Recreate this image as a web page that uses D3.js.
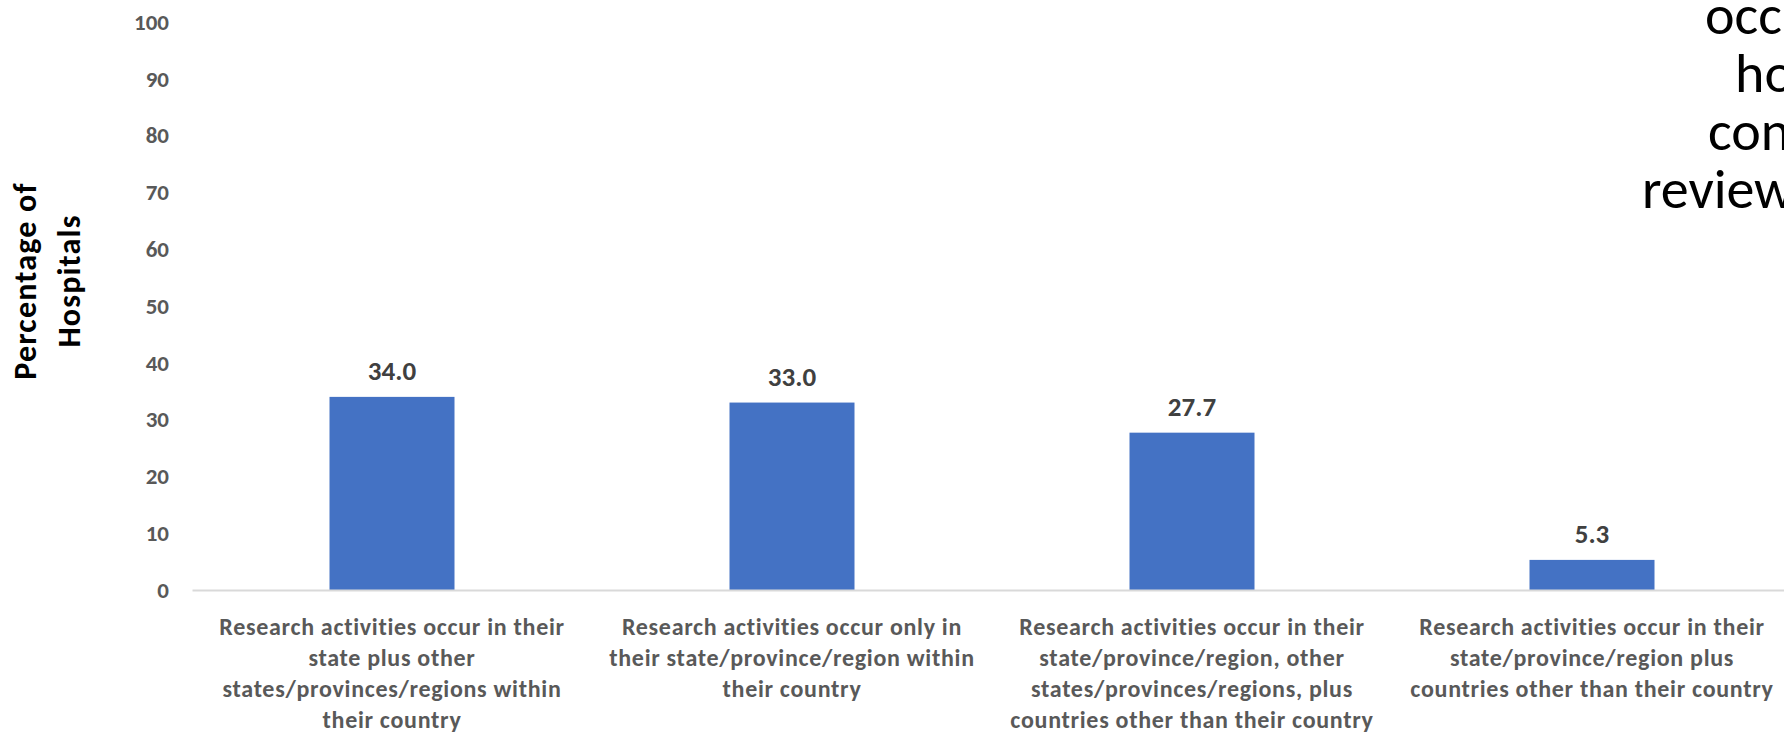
<!DOCTYPE html>
<html>
<head>
<meta charset="utf-8">
<script src="https://cdn.jsdelivr.net/npm/d3@7"></script>
<style>
  html, body { margin: 0; padding: 0; background: #ffffff; }
  svg { display: block; }
</style>
</head>
<body>
<svg id="chart" width="1784" height="733"></svg>
<script>
// ---- data ----
const categories = [
  "Research activities occur in their state plus other states/provinces/regions within their country",
  "Research activities occur only in their state/province/region within their country",
  "Research activities occur in their state/province/region, other states/provinces/regions, plus countries other than their country",
  "Research activities occur in their state/province/region plus countries other than their country"
];
const categoryLines = [
  ["Research activities occur in their", "state plus other", "states/provinces/regions within", "their country"],
  ["Research activities occur only in", "their state/province/region within", "their country"],
  ["Research activities occur in their", "state/province/region, other", "states/provinces/regions, plus", "countries other than their country"],
  ["Research activities occur in their", "state/province/region plus", "countries other than their country"]
];
const values = [34.0, 33.0, 27.7, 5.3];
const yTicks = [0, 10, 20, 30, 40, 50, 60, 70, 80, 90, 100];
const yTitleLines = ["Percentage of", "Hospitals"];
const cornerTextLines = ["occ", "ho", "con", "review"];

// ---- layout ----
const W = 1784, H = 733;
const FONT = "Carlito, Calibri, Lato, 'Liberation Sans', sans-serif";
const svg = d3.select("#chart");
svg.append("rect").attr("width", W).attr("height", H).attr("fill", "#ffffff");

const x = d3.scaleBand().domain(categories).range([192, 1792])
  .paddingInner(0.6875).paddingOuter(0.34375);
const y = d3.scaleLinear().domain([0, 100]).range([590, 22]);

// y axis (labels only)
const yAxis = d3.axisLeft(y).tickValues(yTicks).tickSize(0).tickPadding(23)
  .tickFormat(d3.format("d"));
const gy = svg.append("g").attr("transform", "translate(192,0)").call(yAxis);
gy.select(".domain").remove();
gy.selectAll("text")
  .attr("font-family", FONT).attr("font-size", 23).attr("font-weight", "bold")
  .attr("fill", "#595959");

// bars
svg.append("g").selectAll("rect").data(values).join("rect")
  .attr("x", (d, i) => x(categories[i]))
  .attr("width", x.bandwidth())
  .attr("y", d => y(d))
  .attr("height", d => y(0) - y(d))
  .attr("fill", "#4472C4");

// baseline
const gx = svg.append("g").attr("transform", `translate(0,${y(0)})`)
  .call(d3.axisBottom(x).tickSize(0).tickFormat(""));
gx.select(".domain").attr("stroke", "#d9d9d9").attr("stroke-width", 2);

// value labels
svg.append("g").selectAll("text").data(values).join("text")
  .attr("x", (d, i) => x(categories[i]) + x.bandwidth() / 2)
  .attr("y", d => y(d) - 17)
  .attr("text-anchor", "middle")
  .attr("font-family", FONT).attr("font-size", 27).attr("font-weight", "bold")
  .attr("fill", "#404040")
  .text(d => d.toFixed(1));

// category labels
const cl = svg.append("g").selectAll("text").data(categories).join("text")
  .attr("text-anchor", "middle")
  .attr("font-family", FONT).attr("font-size", 24).attr("font-weight", "bold")
  .attr("letter-spacing", 0.7)
  .attr("fill", "#595959");
cl.each(function (c, i) {
  const t = d3.select(this);
  const cx = x(c) + x.bandwidth() / 2;
  categoryLines[i].forEach((line, k) => {
    t.append("tspan").attr("x", cx).attr("y", 635 + k * 31).text(line);
  });
});

// y axis title
const yt = svg.append("text")
  .attr("transform", "translate(0,281) rotate(-90)")
  .attr("text-anchor", "middle")
  .attr("font-family", FONT).attr("font-size", 32).attr("font-weight", "bold")
  .attr("letter-spacing", 1.2)
  .attr("fill", "#000000");
yTitleLines.forEach((line, k) => {
  yt.append("tspan").attr("x", 0).attr("y", 36 + k * 44).text(line);
});

// clipped slide text at top right
const ct = svg.append("text")
  .attr("font-family", FONT).attr("font-size", 56)
  .attr("fill", "#000000");
const cornerX = [1705, 1735, 1708, 1642];
cornerTextLines.forEach((line, k) => {
  ct.append("tspan").attr("x", cornerX[k]).attr("y", 34 + k * 58).text(line);
});
</script>
</body>
</html>
